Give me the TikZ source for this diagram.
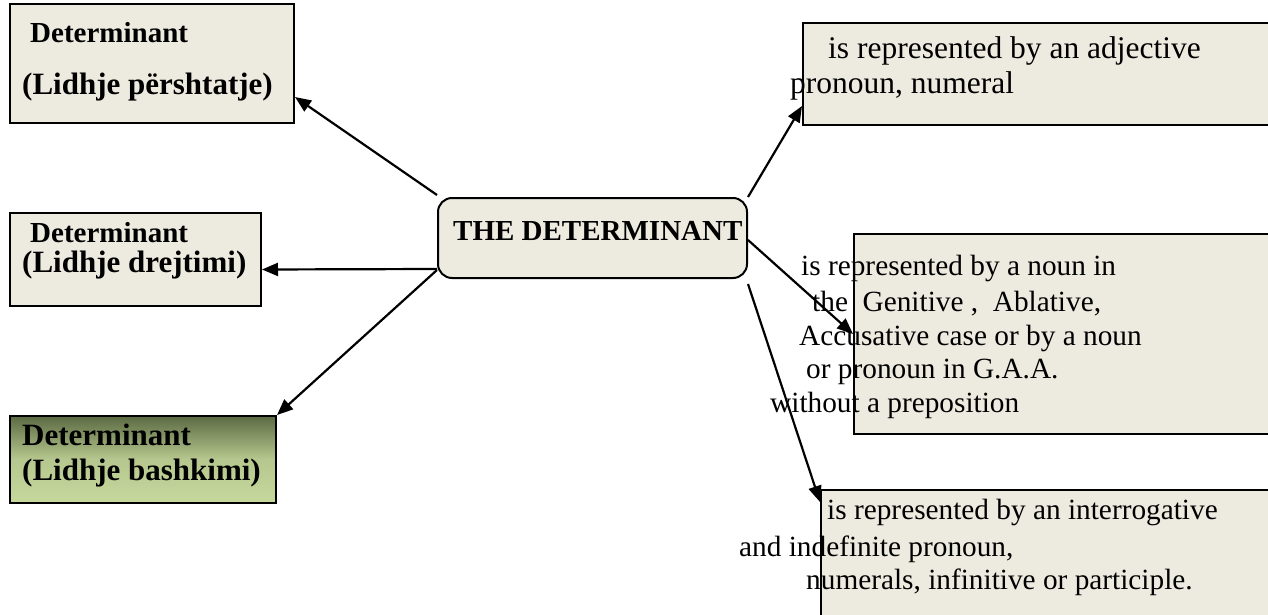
\documentclass[tikz,border=0pt]{standalone}
\usepackage{fontspec}
\setmainfont{Liberation Serif}
\usetikzlibrary{arrows.meta,calc}

\definecolor{boxfill}{RGB}{237,235,224}
\definecolor{olivetop}{RGB}{92,106,66}
\definecolor{olivebot}{RGB}{198,216,156}

\tikzset{
  x=1pt, y=-1pt,
  box/.style={draw=black, line width=2pt, fill=boxfill, rectangle, inner sep=0pt, anchor=north west},
  hub/.style={box, rounded corners=14pt},
  greenbox/.style={box, top color=olivetop, bottom color=olivebot, middle color=olivebot!85!olivetop},
  boldtxt/.style={inner sep=0pt, anchor=base west, font=\fontsize{31}{35}\selectfont\bfseries},
  smallbold/.style={boldtxt, font=\fontsize{29}{33}\selectfont\bfseries},
  hubtxt/.style={inner sep=0pt, anchor=base west, font=\fontsize{29}{33}\selectfont\bfseries},
  bigtxt/.style={inner sep=0pt, anchor=base west, font=\fontsize{31.5}{35}\selectfont},
  txt/.style={inner sep=0pt, anchor=base west, font=\fontsize{29.3}{34}\selectfont},
  link/.style={line width=2.2pt, -{Triangle[length=16pt,width=13pt]}}
}

\begin{document}
\begin{tikzpicture}
\clip (0,0) rectangle (1268,615);

% left boxes
\node[box, minimum width=284pt, minimum height=119pt] (lb1) at (9,3) {};
\node[box, minimum width=251pt, minimum height=93pt] (lb2) at (9,212) {};
\node[greenbox, minimum width=266pt, minimum height=87pt] (lb3) at (9,415) {};

% central box
\node[hub, minimum width=309pt, minimum height=80pt] (hub) at (437,197) {};

% right boxes (running past the right edge)
\node[box, minimum width=520pt, minimum height=102pt] (rb1) at (802,22) {};
\node[box, minimum width=470pt, minimum height=200pt] (rb2) at (853,233) {};
\node[box, minimum width=500pt, minimum height=160pt] (rb3) at (820,489) {};

% texts
\node[smallbold] (l1a) at (30,43) {Determinant};
\node[boldtxt] (l1b) at (22,95) {(Lidhje përshtatje)};
\node[smallbold] (l2a) at (30,242) {Determinant};
\node[boldtxt] (l2b) at (22,272) {(Lidhje drejtimi)};
\node[boldtxt] (l3a) at (22,445) {Determinant};
\node[boldtxt] (l3b) at (22,480) {(Lidhje bashkimi)};

\node[hubtxt] (ht) at (453,240) {THE DETERMINANT};

\node[bigtxt] (r1a) at (828,59) {is represented by an adjective};
\node[bigtxt] (r1b) at (790,94) {pronoun, numeral};

\node[txt] (r2a) at (801,275) {is represented by a noun in};
\node[txt] (r2b) at (812,311) {the\ \ Genitive ,\ \ Ablative,};
\node[txt] (r2c) at (799,345) {Accusative case or by a noun};
\node[txt] (r2d) at (806,378) {or pronoun in G.A.A.};
\node[txt] (r2e) at (770,412) {without a preposition};

\node[txt] (r3a) at (827,519) {is represented by an interrogative};
\node[txt] (r3b) at (739,556) {and indefinite pronoun,};
\node[txt] (r3c) at (806,589) {numerals, infinitive or participle.};

% connectors
\draw[link] ([shift={(0,-2)}]hub.north west) -- ([yshift=27pt]lb1.south east);
\draw[link] ([yshift=10pt]hub.south west) -- ([yshift=-10pt]lb2.east);
\draw[link] ([yshift=9pt]hub.south west) -- (lb3.north east);
\draw[link] (hub.north east) -- ([yshift=20pt]rb1.south west);
\draw[link] ([yshift=-2pt]hub.east) -- (rb2.west);
\draw[link] ([yshift=-5pt]hub.south east) -- ([yshift=-13pt]rb3.north west);
\end{tikzpicture}
\end{document}
